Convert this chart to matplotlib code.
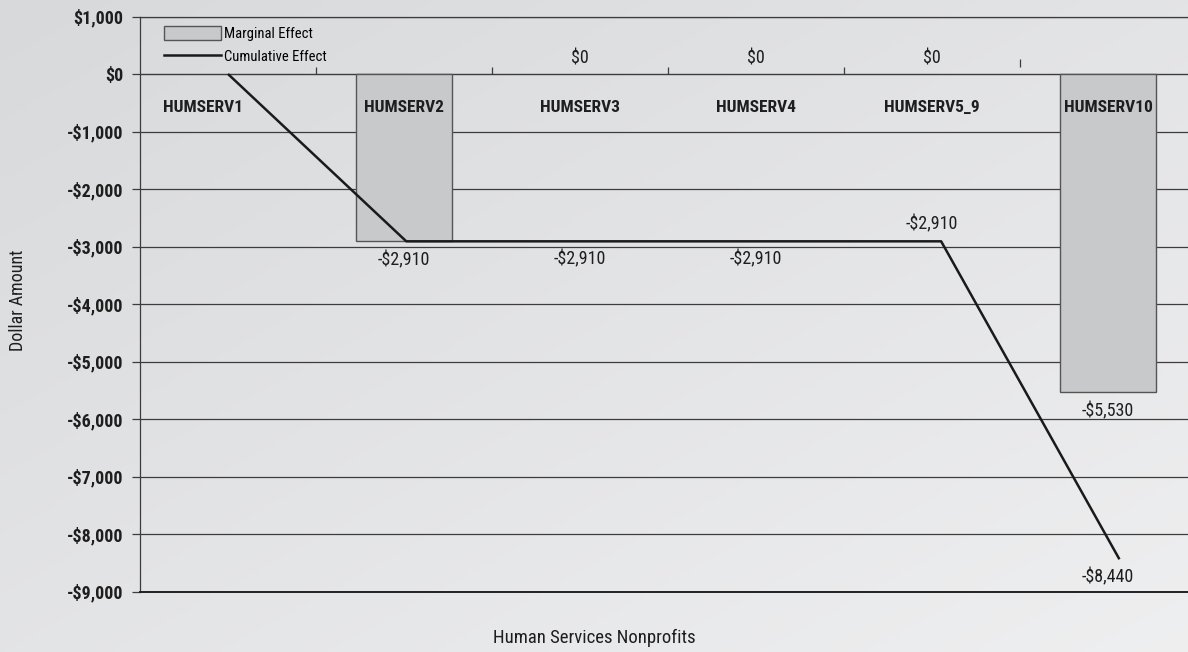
"""Marginal and cumulative effect chart for human services nonprofits."""

import numpy as np
import matplotlib
matplotlib.use("Agg")
import matplotlib.pyplot as plt
from matplotlib.patches import Patch
from matplotlib.lines import Line2D
from matplotlib.ticker import FuncFormatter

categories = ["HUMSERV1", "HUMSERV2", "HUMSERV3", "HUMSERV4", "HUMSERV5_9", "HUMSERV10"]
marginal = [0, -2910, 0, 0, 0, -5530]
cumulative = [0, -2910, -2910, -2910, -2910, -8440]

# which points carry a value label
marginal_labelled = [1, 2, 3, 4, 5]
cumulative_labelled = [2, 3, 4, 5]
cumulative_above = [4]

plt.rcParams["font.family"] = ["Liberation Sans Narrow", "Roboto Condensed", "DejaVu Sans"]
plt.rcParams["font.stretch"] = "condensed"
plt.rcParams["font.size"] = 13

W, H = 1188, 652
fig = plt.figure(figsize=(W / 100, H / 100), dpi=100)

# soft diagonal grey background
bg = fig.add_axes([0, 0, 1, 1], zorder=0)
xx, yy = np.meshgrid(np.linspace(0, 1, 300), np.linspace(0, 1, 200))
t = (xx + yy) / 2
c0 = np.array([0.847, 0.851, 0.859])
c1 = np.array([0.935, 0.937, 0.941])
img = c0[None, None, :] + t[..., None] * (c1 - c0)[None, None, :]
bg.imshow(img, aspect="auto", extent=[0, 1, 0, 1], origin="upper")
bg.axis("off")

left, right = 140 / W, 1196 / W
top, bottom = 16.5 / H, 591.5 / H
ax = fig.add_axes([left, 1 - bottom, right - left, bottom - top], zorder=1)
ax.set_facecolor("none")

ymin, ymax = -9000, 1000
n = len(categories)
x = np.arange(n)
ax.set_xlim(-0.5, n - 0.5)
ax.set_ylim(ymin, ymax)

grid_col = "#3c3c3c"
ax.set_yticks(np.arange(ymin, ymax + 1, 1000))
ax.yaxis.set_major_formatter(FuncFormatter(
    lambda v, p: f"-${abs(v):,.0f}" if v < 0 else f"${v:,.0f}"))
ax.tick_params(axis="y", direction="out", length=6, width=0.9, color=grid_col, pad=6,
               labelsize=13)
for lab in ax.get_yticklabels():
    lab.set_fontweight("bold")
    lab.set_color("#1e1e1e")
ax.yaxis.grid(True, color=grid_col, lw=0.9)
ax.set_axisbelow(True)
ax.set_xticks([])

for side in ["top", "left"]:
    ax.spines[side].set_color(grid_col)
    ax.spines[side].set_linewidth(0.9)
ax.spines["right"].set_visible(False)
ax.spines["bottom"].set_color("#222222")
ax.spines["bottom"].set_linewidth(1.4)

# category axis sits on the zero line
zero_frac = (0 - ymin) / (ymax - ymin)
sec = ax.secondary_xaxis(zero_frac)
sec.set_xticks(np.arange(0.5, n - 1.5))
sec.set_xticklabels([])
sec.tick_params(direction="out", length=5, width=0.9, color=grid_col)
sec.spines["bottom"].set_color(grid_col)
sec.spines["bottom"].set_linewidth(0.9)
ax.vlines(n - 1.5, 120, 260, color=grid_col, lw=0.9)

# marginal effect bars (zero-height ones are left out)
nonzero = [i for i in x if marginal[i] != 0]
ax.bar(x[nonzero], [marginal[i] for i in nonzero], width=0.54, color="#c8c9cb",
       edgecolor="#555555", lw=1.0, zorder=2)

# cumulative effect line
line_x = x * 1.013
ax.plot(line_x, cumulative, color="#1a1a1a", lw=1.8, zorder=3, solid_capstyle="butt")

def money(v):
    return f"-${abs(v):,.0f}" if v < 0 else f"${v:,.0f}"

for i in marginal_labelled:
    v = marginal[i]
    off = -14 if v < 0 else 11
    ax.annotate(money(v), (x[i], v), xytext=(0, off), textcoords="offset points",
                ha="center", va="center", fontsize=13, color="#1e1e1e", zorder=4)

for i in cumulative_labelled:
    v = cumulative[i]
    off = 12 if i in cumulative_above else -13
    if i in marginal_labelled and marginal[i] == v:
        continue
    ax.annotate(money(v), (x[i], v), xytext=(0, off), textcoords="offset points",
                ha="center", va="center", fontsize=13, color="#1e1e1e", zorder=4)

# category names just under the zero line
name_nudge = {0: -0.14}
for i, name in enumerate(categories):
    ax.annotate(name, (x[i] + name_nudge.get(i, 0), 0), xytext=(0, -24),
                textcoords="offset points", ha="center", va="center",
                fontsize=12.5, fontweight="bold", color="#1e1e1e", zorder=4)

handles = [Patch(facecolor="#c8c9cb", edgecolor="#555555", lw=1.0),
           Line2D([], [], color="#1a1a1a", lw=1.8)]
fig.legend(handles, ["Marginal Effect", "Cumulative Effect"], loc="upper left",
           bbox_to_anchor=(164 / W, 1 - 26 / H), frameon=False, fontsize=10.5,
           handlelength=3.9, handleheight=1.1, handletextpad=0.2, labelspacing=0.55,
           borderpad=0, borderaxespad=0)

fig.text(18 / W, 1 - 300 / H, "Dollar Amount", rotation=90, ha="center", va="center",
         fontsize=13, color="#1e1e1e")
fig.text(594 / W, 1 - 638 / H, "Human Services Nonprofits", ha="center", va="center",
         fontsize=13.5, color="#1e1e1e")

fig.savefig("out.png", dpi=100)
